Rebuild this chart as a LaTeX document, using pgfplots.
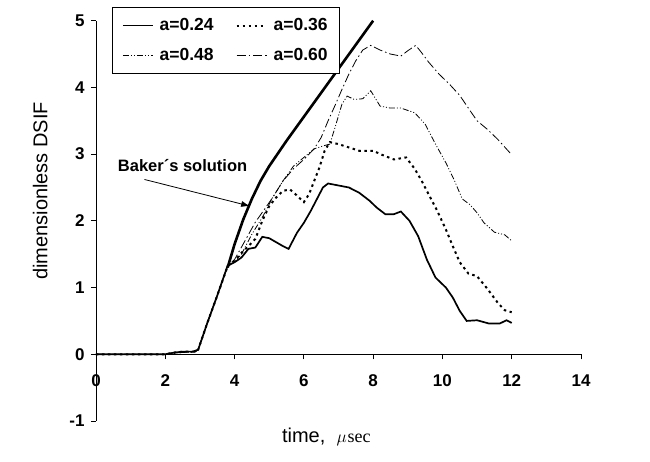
\documentclass[border=0pt]{standalone}
\usepackage{fontspec}
\setmainfont{Liberation Sans}
\newfontfamily\timesfont{Liberation Serif}
\usepackage{pgfplots}
\pgfplotsset{compat=1.18}
\usetikzlibrary{arrows.meta}
\begin{document}
\begin{tikzpicture}
\begin{axis}[
  width=485pt, height=400.3pt, scale only axis,
  xmin=0, xmax=14, ymin=-1, ymax=5,
  axis x line=middle, axis y line=left,
  axis line style={-, line width=0.9pt, black},
  xtick={0,2,...,14}, ytick={-1,0,...,5},
  tick align=outside, major tick length=5pt,
  tick style={black, line width=0.9pt},
  hide obscured x ticks=false, hide obscured y ticks=false,
  /pgf/number format/assume math mode=true,
  ticklabel style={font=\fontsize{17}{17}\selectfont\bfseries},
  xticklabel style={yshift=-12pt},
  yticklabel style={xshift=-3pt},
  xlabel={time,\ \ {\fontsize{18}{18}\selectfont$\mu$\hspace{1pt}{\timesfont sec}}},
  ylabel={dimensionless DSIF},
  label style={font=\fontsize{20}{20}\selectfont},
  xlabel style={at={(axis description cs:0.475,0)}, anchor=center, yshift=-16pt},
  ylabel style={at={(axis description cs:-0.115,0.575)}, anchor=center},
  clip=false,
  legend columns=2,
  legend image code/.code={\draw[#1] (0pt,0pt) -- (30pt,0pt);},
  legend style={at={(axis cs:0.45,5.2)}, anchor=north west, draw=black, line width=0.8pt,
    font=\fontsize{17.5}{17.5}\selectfont\bfseries,
    /tikz/every odd column/.append style={column sep=4pt},
    /tikz/every even column/.append style={column sep=20pt},
    row sep=12pt, inner xsep=10pt, inner ysep=9pt},
]
\path ([xshift=-96pt,yshift=-41pt]rel axis cs:0,0) rectangle ([xshift=69pt,yshift=20.7pt]rel axis cs:1,1);

% a=0.24
\addplot[black, line width=1.7pt] coordinates {
(0,0) (2.0,0) (2.2,0.02) (2.5,0.04) (2.8,0.04) (2.95,0.07) (3.2,0.45) (3.5,0.88) (3.8,1.33)
(4.0,1.38) (4.2,1.45) (4.4,1.58) (4.6,1.6) (4.8,1.76) (5.0,1.74) (5.2,1.68) (5.4,1.62) (5.56,1.58)
(5.8,1.82) (6.0,1.97) (6.2,2.15) (6.4,2.35) (6.55,2.5) (6.7,2.56) (7.0,2.53) (7.3,2.5) (7.6,2.42)
(7.9,2.3) (8.1,2.2) (8.35,2.1) (8.6,2.1) (8.8,2.14) (9.05,2.0) (9.3,1.77) (9.55,1.42) (9.8,1.15)
(10.1,1.0) (10.3,0.85) (10.5,0.65) (10.7,0.5) (11.0,0.51) (11.35,0.46) (11.65,0.46) (11.85,0.51) (12.0,0.47)
};
\addlegendentry{a=0.24}
% a=0.36
\addplot[black, line width=2pt, dash pattern=on 2.5pt off 3.5pt] coordinates {
(0,0) (2.0,0) (2.3,0.03) (2.6,0.04) (2.85,0.04) (2.95,0.07) (3.2,0.45) (3.5,0.88) (3.8,1.32)
(4.0,1.4) (4.2,1.52) (4.4,1.62) (4.6,1.73) (4.8,2.0) (5.0,2.22) (5.2,2.35) (5.4,2.45) (5.6,2.47)
(5.8,2.38) (6.0,2.28) (6.15,2.4) (6.3,2.6) (6.45,2.8) (6.6,3.05) (6.75,3.18) (7.0,3.15) (7.3,3.1)
(7.6,3.05) (8.0,3.05) (8.3,2.98) (8.6,2.92) (8.95,2.95) (9.2,2.78) (9.4,2.6) (9.6,2.4) (9.85,2.15)
(10.1,1.87) (10.3,1.62) (10.5,1.38) (10.75,1.21) (11.0,1.17) (11.3,0.98) (11.6,0.77) (11.8,0.66) (12.0,0.63)
};
\addlegendentry{a=0.36}
% a=0.48
\addplot[black, line width=0.8pt, dash pattern=on 6pt off 2pt on 1pt off 2pt on 1pt off 2pt] coordinates {
(0,0) (2.0,0) (2.3,0.02) (2.6,0.03) (2.85,0.03) (2.95,0.07) (3.2,0.45) (3.5,0.88) (3.8,1.32)
(4.0,1.38) (4.2,1.5) (4.5,1.8) (4.8,2.05) (5.1,2.35) (5.4,2.6) (5.7,2.82) (6.0,2.95) (6.3,3.08)
(6.6,3.13) (6.75,3.15) (6.9,3.4) (7.1,3.75) (7.25,3.87) (7.45,3.82) (7.7,3.83) (7.93,3.95) (8.2,3.72)
(8.5,3.69) (8.8,3.69) (9.2,3.62) (9.5,3.45) (9.8,3.15) (10.1,2.87) (10.35,2.6) (10.57,2.33) (10.8,2.24)
(11.0,2.12) (11.2,1.97) (11.5,1.83) (11.8,1.79) (12.0,1.7)
};
\addlegendentry{a=0.48}
% a=0.60
\addplot[black, line width=0.8pt, dash pattern=on 9pt off 3pt on 1.5pt off 3pt] coordinates {
(0,0) (2.0,0) (2.3,0.02) (2.6,0.03) (2.85,0.03) (2.95,0.07) (3.2,0.45) (3.5,0.88) (3.8,1.33)
(4.0,1.42) (4.3,1.7) (4.6,1.98) (4.9,2.2) (5.1,2.35) (5.4,2.6) (5.7,2.78) (6.0,2.92) (6.3,3.08)
(6.5,3.25) (6.7,3.5) (6.9,3.73) (7.1,3.97) (7.3,4.2) (7.5,4.4) (7.7,4.56) (7.93,4.63) (8.2,4.56)
(8.5,4.5) (8.8,4.47) (9.0,4.55) (9.23,4.63) (9.4,4.52) (9.6,4.38) (9.9,4.2) (10.2,4.05) (10.5,3.88)
(10.8,3.65) (11.0,3.5) (11.3,3.37) (11.6,3.22) (12.0,2.99)
};
\addlegendentry{a=0.60}
% Baker's solution
\addplot[black, line width=2.6pt, forget plot] coordinates {
(3.8,1.3) (4.0,1.65) (4.25,2.02) (4.5,2.33) (4.75,2.6) (5.0,2.82) (5.5,3.2) (6.0,3.56)
(6.5,3.92) (7.0,4.28) (7.5,4.64) (8.0,5.0)
};
\node[font=\fontsize{16.5}{16.5}\selectfont\bfseries] at (axis cs:2.5,2.83) {Baker´s solution};
\draw[-{Latex[length=9pt,width=6pt]}, line width=0.8pt] (axis cs:1.4,2.62) -- (axis cs:4.45,2.22);
\end{axis}
\end{tikzpicture}
\end{document}
